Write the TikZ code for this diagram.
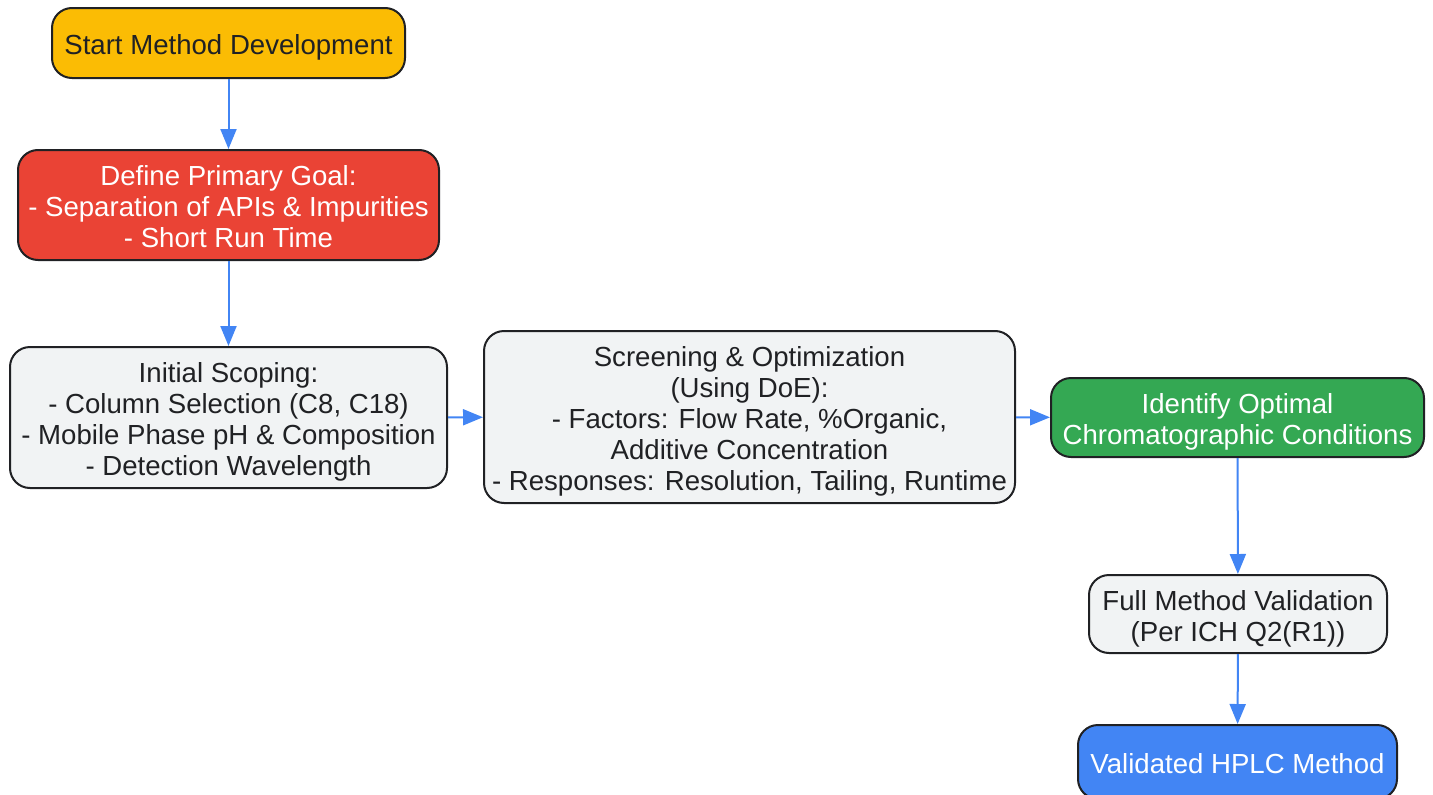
\documentclass[tikz,border=0pt]{standalone}
\usepackage{fontspec}
\setmainfont{Liberation Sans}
\usetikzlibrary{arrows.meta}
\definecolor{cyel}{HTML}{FBBC04}
\definecolor{cred}{HTML}{EA4335}
\definecolor{cgrn}{HTML}{34A853}
\definecolor{cblu}{HTML}{4285F4}
\definecolor{cgry}{HTML}{F1F3F4}
\definecolor{cdark}{HTML}{202124}
\newcommand\mytop{\rule{0pt}{30pt}}
\newcommand\mybot{\rule[-7pt]{0pt}{7pt}}
\begin{document}
\begin{tikzpicture}[x=1pt,y=-1pt,
  box/.style={draw=cdark,line width=2pt,rounded corners=20pt,align=center,
    font=\fontsize{27.6}{31}\selectfont,text=cdark,inner sep=0pt},
  conn/.style={draw=cblu,line width=2pt,-{Triangle[length=20pt,width=16pt]}}]
\useasboundingbox (0,0) rectangle (1433,795);
\node[box,fill=cyel,minimum width=353pt,minimum height=70pt] (start) at (228.5,43) {\mytop Start Method Development\mybot};
\node[box,fill=cred,text=white,minimum width=421pt,minimum height=110pt] (goal) at (228.5,205) {\mytop Define Primary Goal:\\- Separation of APIs \& Impurities\\- Short Run Time\mybot};
\node[box,fill=cgry,minimum width=437pt,minimum height=141pt] (scope) at (228.5,417.5) {\mytop Initial Scoping:\\- Column Selection (C8, C18)\\- Mobile Phase pH \& Composition\\- Detection Wavelength\mybot};
\node[box,fill=cgry,minimum width=531pt,minimum height=172pt] (screen) at (749.5,417) {\mytop Screening \& Optimization\\(Using DoE):\\- Factors: Flow Rate, \%Organic,\\Additive Concentration\\- Responses: Resolution, Tailing, Runtime\mybot};
\node[box,fill=cgrn,text=white,minimum width=373pt,minimum height=79pt] (ident) at (1237.5,417.5) {\mytop Identify Optimal\\Chromatographic Conditions\mybot};
\node[box,fill=cgry,minimum width=298pt,minimum height=78pt] (valid) at (1238,614) {\mytop Full Method Validation\\(Per ICH Q2(R1))\mybot};
\node[box,fill=cblu,text=white,minimum width=319pt,minimum height=74pt] (final) at (1237.5,762) {\mytop Validated HPLC Method\mybot};
\draw[conn] (start) -- (goal);
\draw[conn] (goal) -- (scope);
\draw[conn] (scope) -- (screen);
\draw[conn] (screen) -- (ident);
\draw[conn] (ident) -- (valid);
\draw[conn] (valid) -- (final);
\end{tikzpicture}
\end{document}
